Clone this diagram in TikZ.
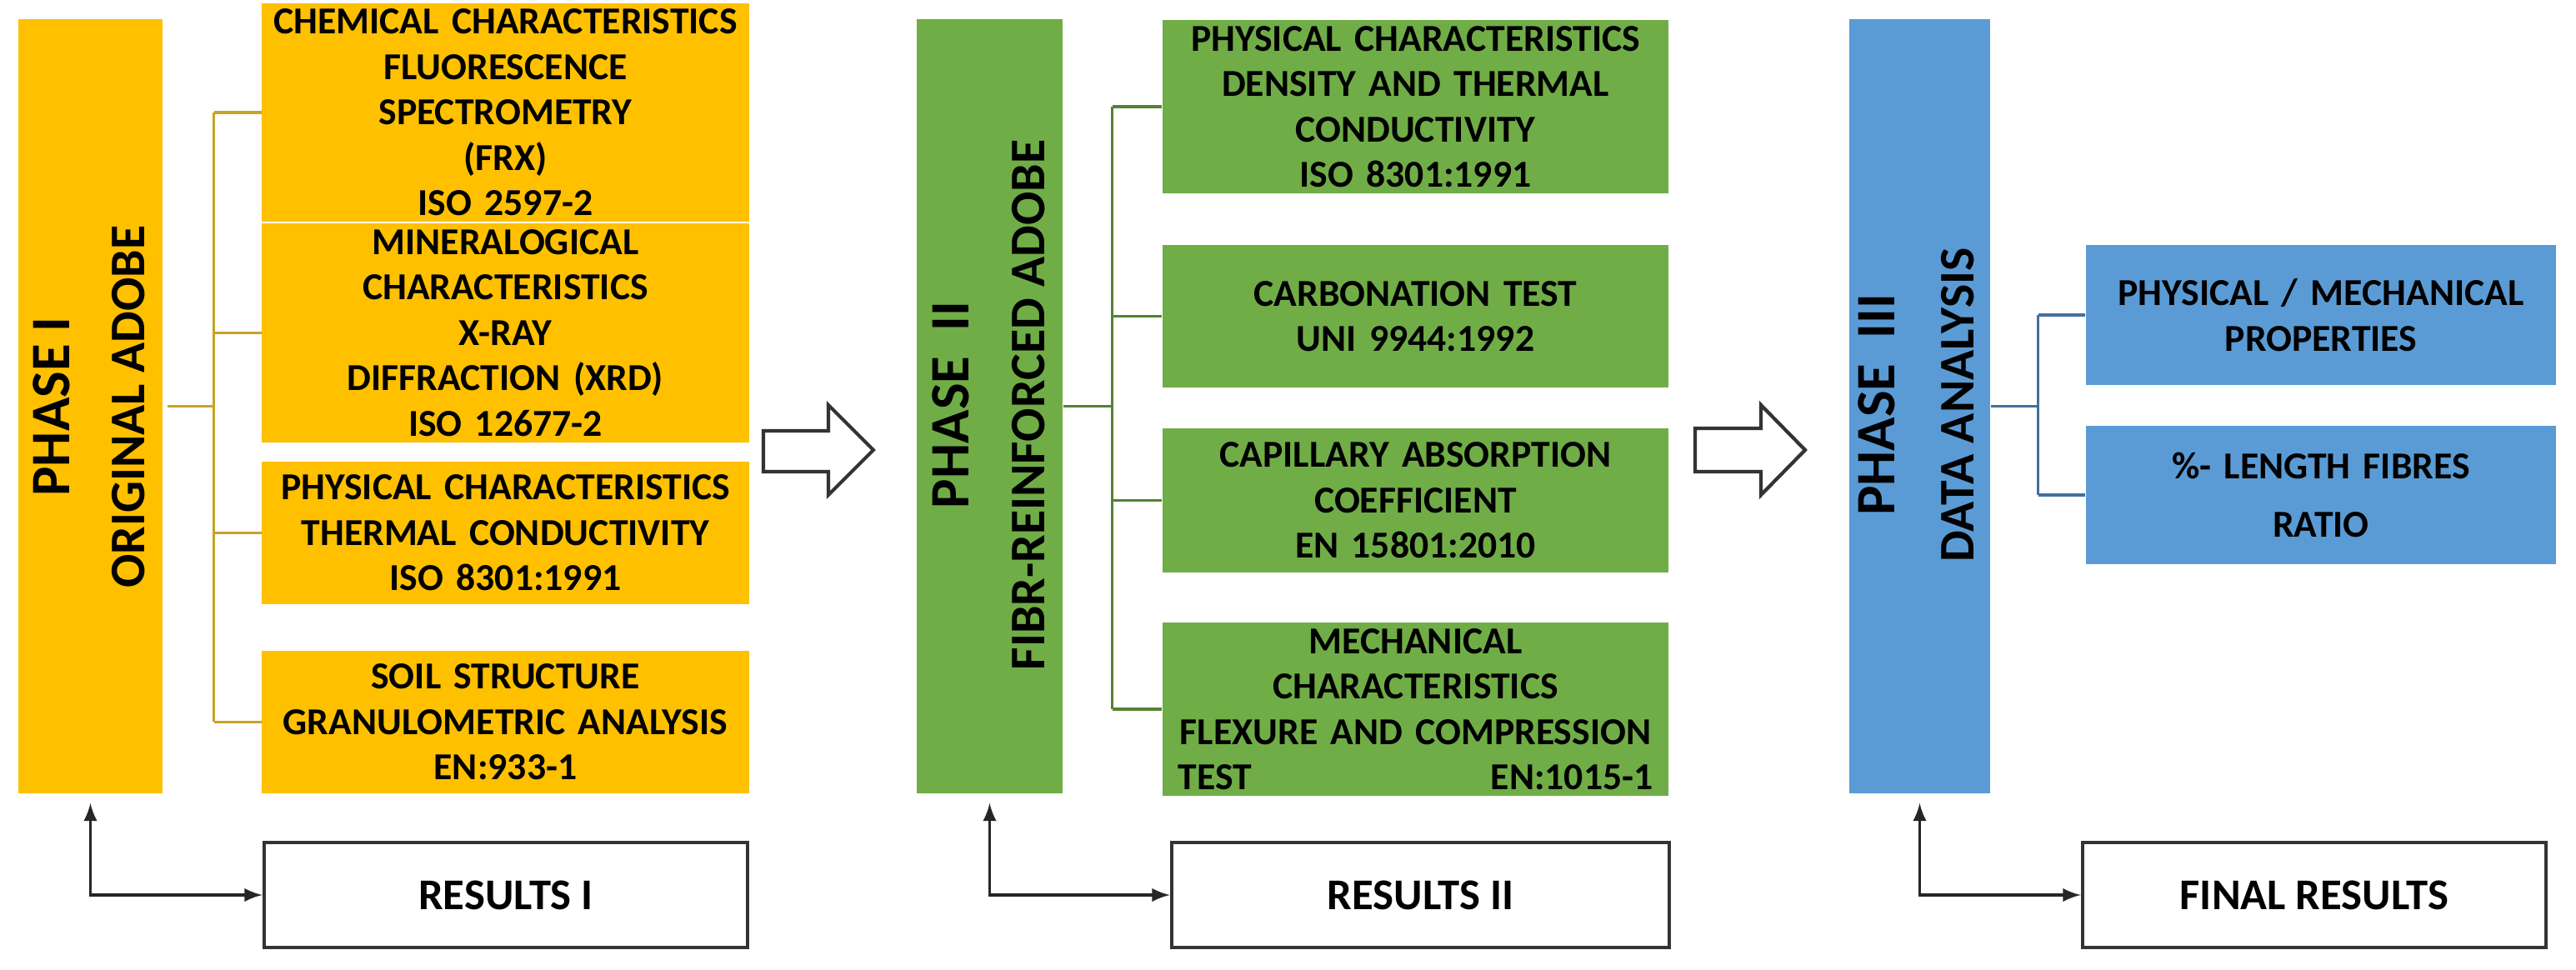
\documentclass[tikz,border=0pt]{standalone}
\usepackage{fontspec}
\setmainfont{Carlito}
\usetikzlibrary{arrows}

\definecolor{adobeorange}{HTML}{FFC000}
\definecolor{adobegreen}{HTML}{70AD47}
\definecolor{adobeblue}{HTML}{5B9BD5}
\definecolor{linkorange}{HTML}{C9A227}
\definecolor{linkgreen}{HTML}{548235}
\definecolor{linkblue}{HTML}{41719C}

\tikzset{
  phase/.style={minimum width=#1, minimum height=9.29cm, inner sep=0pt},
  test/.style={align=center, inner sep=2pt, font=\bfseries\fontsize{13}{15.5}\selectfont},
  result/.style={draw=black!80, line width=1.2pt, minimum height=1.26cm, inner sep=0pt,
    font=\bfseries\fontsize{15}{18}\selectfont},
  vlabel/.style={rotate=90, font=\bfseries\fontsize{#1}{#1}\selectfont},
  hollow/.style={draw=black!80, line width=1.2pt, fill=white, line join=miter},
}

\begin{document}
\begin{tikzpicture}
\useasboundingbox (0,0) rectangle (30.91,-11.64);

% phase bars
\node[phase=1.73cm, fill=adobeorange] (bar1) at (1.085,-4.875) {};
\node[phase=1.75cm, fill=adobegreen] (bar2) at (11.875,-4.875) {};
\node[phase=1.69cm, fill=adobeblue] (bar3) at (23.035,-4.875) {};

\node[vlabel=19] (ph1) at (0.62,-4.88) {PHASE I};
\node[vlabel=17] (nm1) at (1.54,-4.88) {ORIGINAL ADOBE};
\node[vlabel=19] (ph2) at (11.41,-4.86) {PHASE\ \ II};
\node[vlabel=17] (nm2) at (12.34,-4.86) {FIBR-REINFORCED ADOBE};
\node[vlabel=19] (ph3) at (22.52,-4.86) {PHASE\ \ III};
\node[vlabel=17] (nm3) at (23.49,-4.86) {DATA ANALYSIS};

% phase I tests
\node[test, fill=adobeorange, minimum width=5.79cm, minimum height=2.16cm, text width=5.7cm] (o1) at (6.065,-1.35)
  {CHEMICAL CHARACTERISTICS\\FLUORESCENCE SPECTROMETRY\\(FRX)\\ISO 2597-2};
\node[test, fill=adobeorange, minimum width=5.79cm, minimum height=2.11cm, text width=5.7cm] (o2) at (6.065,-3.995)
  {MINERALOGICAL\\CHARACTERISTICS\hspace{1.3cm}X-RAY\\DIFFRACTION (XRD)\\ISO 12677-2};
\node[test, fill=adobeorange, minimum width=5.79cm, minimum height=1.71cm, text width=5.7cm] (o3) at (6.065,-6.395)
  {PHYSICAL CHARACTERISTICS\\THERMAL CONDUCTIVITY\\ISO 8301:1991};
\node[test, fill=adobeorange, minimum width=5.79cm, minimum height=1.71cm, text width=5.7cm] (o4) at (6.065,-8.665)
  {SOIL STRUCTURE\\GRANULOMETRIC ANALYSIS\\EN:933-1};

% phase II tests
\node[test, fill=adobegreen, minimum width=6.07cm, minimum height=2.08cm, text width=5.9cm] (g1) at (16.985,-1.28)
  {PHYSICAL CHARACTERISTICS\\DENSITY AND THERMAL\\CONDUCTIVITY\\ISO 8301:1991};
\node[test, fill=adobegreen, minimum width=6.07cm, minimum height=1.71cm, text width=5.9cm] (g2) at (16.985,-3.795)
  {CARBONATION TEST\\UNI 9944:1992};
\node[test, fill=adobegreen, minimum width=6.07cm, minimum height=1.73cm, text width=5.9cm] (g3) at (16.985,-6.005)
  {CAPILLARY ABSORPTION\\COEFFICIENT\\EN 15801:2010};
\node[test, fill=adobegreen, minimum width=6.07cm, minimum height=2.02cm, text width=5.7cm] (g4) at (16.985,-8.51)
  {MECHANICAL CHARACTERISTICS\\FLEXURE AND COMPRESSION\\TEST\hfill EN:1015-1};

% phase III analysis
\node[test, fill=adobeblue, minimum width=5.62cm, minimum height=1.68cm, text width=5.5cm] (d1) at (27.85,-3.78)
  {PHYSICAL / MECHANICAL\\PROPERTIES};
\node[test, fill=adobeblue, minimum width=5.62cm, minimum height=1.66cm, text width=5.5cm,
  font=\bfseries\fontsize{13}{20}\selectfont] (d2) at (27.85,-5.94)
  {\%- LENGTH FIBRES\\RATIO};

% results
\node[result, minimum width=5.8cm] (r1) at (6.07,-10.74) {RESULTS I};
\node[result, minimum width=5.97cm] (r2) at (17.045,-10.74) {RESULTS II};
\node[result, minimum width=5.56cm] (r3) at (27.77,-10.74) {FINAL RESULTS};

% branches
\draw[linkorange, line width=1pt] ([xshift=0.05cm]bar1.east) -- ++(0.56,0) coordinate (j1);
\draw[linkorange, line width=1pt] (j1 |- o1.west) -- (j1 |- o4.west);
\foreach \i in {1,...,4}
  \draw[linkorange, line width=1pt] (j1 |- o\i.west) -- (o\i.west);

\draw[linkgreen, line width=1pt] (bar2.east) -- ++(0.59,0) coordinate (j2);
\draw[linkgreen, line width=1pt] (j2 |- g1.west) -- (j2 |- g4.west);
\foreach \i in {1,...,4}
  \draw[linkgreen, line width=1pt] (j2 |- g\i.west) -- (g\i.west);

\draw[linkblue, line width=1pt] (bar3.east) -- ++(0.57,0) coordinate (j3);
\draw[linkblue, line width=1pt] (j3 |- d1.west) -- (j3 |- d2.west);
\foreach \i in {1,2}
  \draw[linkblue, line width=1pt] (j3 |- d\i.west) -- (d\i.west);

% hollow arrows between phases
\draw[hollow] (9.16,-5.17) -- (9.94,-5.17) -- (9.94,-4.86) -- (10.48,-5.40)
  -- (9.94,-5.94) -- (9.94,-5.66) -- (9.16,-5.66) -- cycle;
\draw[hollow] (20.34,-5.14) -- (21.13,-5.14) -- (21.13,-4.86) -- (21.66,-5.40)
  -- (21.13,-5.94) -- (21.13,-5.66) -- (20.34,-5.66) -- cycle;

% feedback
\foreach \i in {1,2,3}
  \draw[latex-latex, line width=1.1pt, black!85] ([yshift=-0.11cm]bar\i.south) |- (r\i.west);
\end{tikzpicture}
\end{document}
